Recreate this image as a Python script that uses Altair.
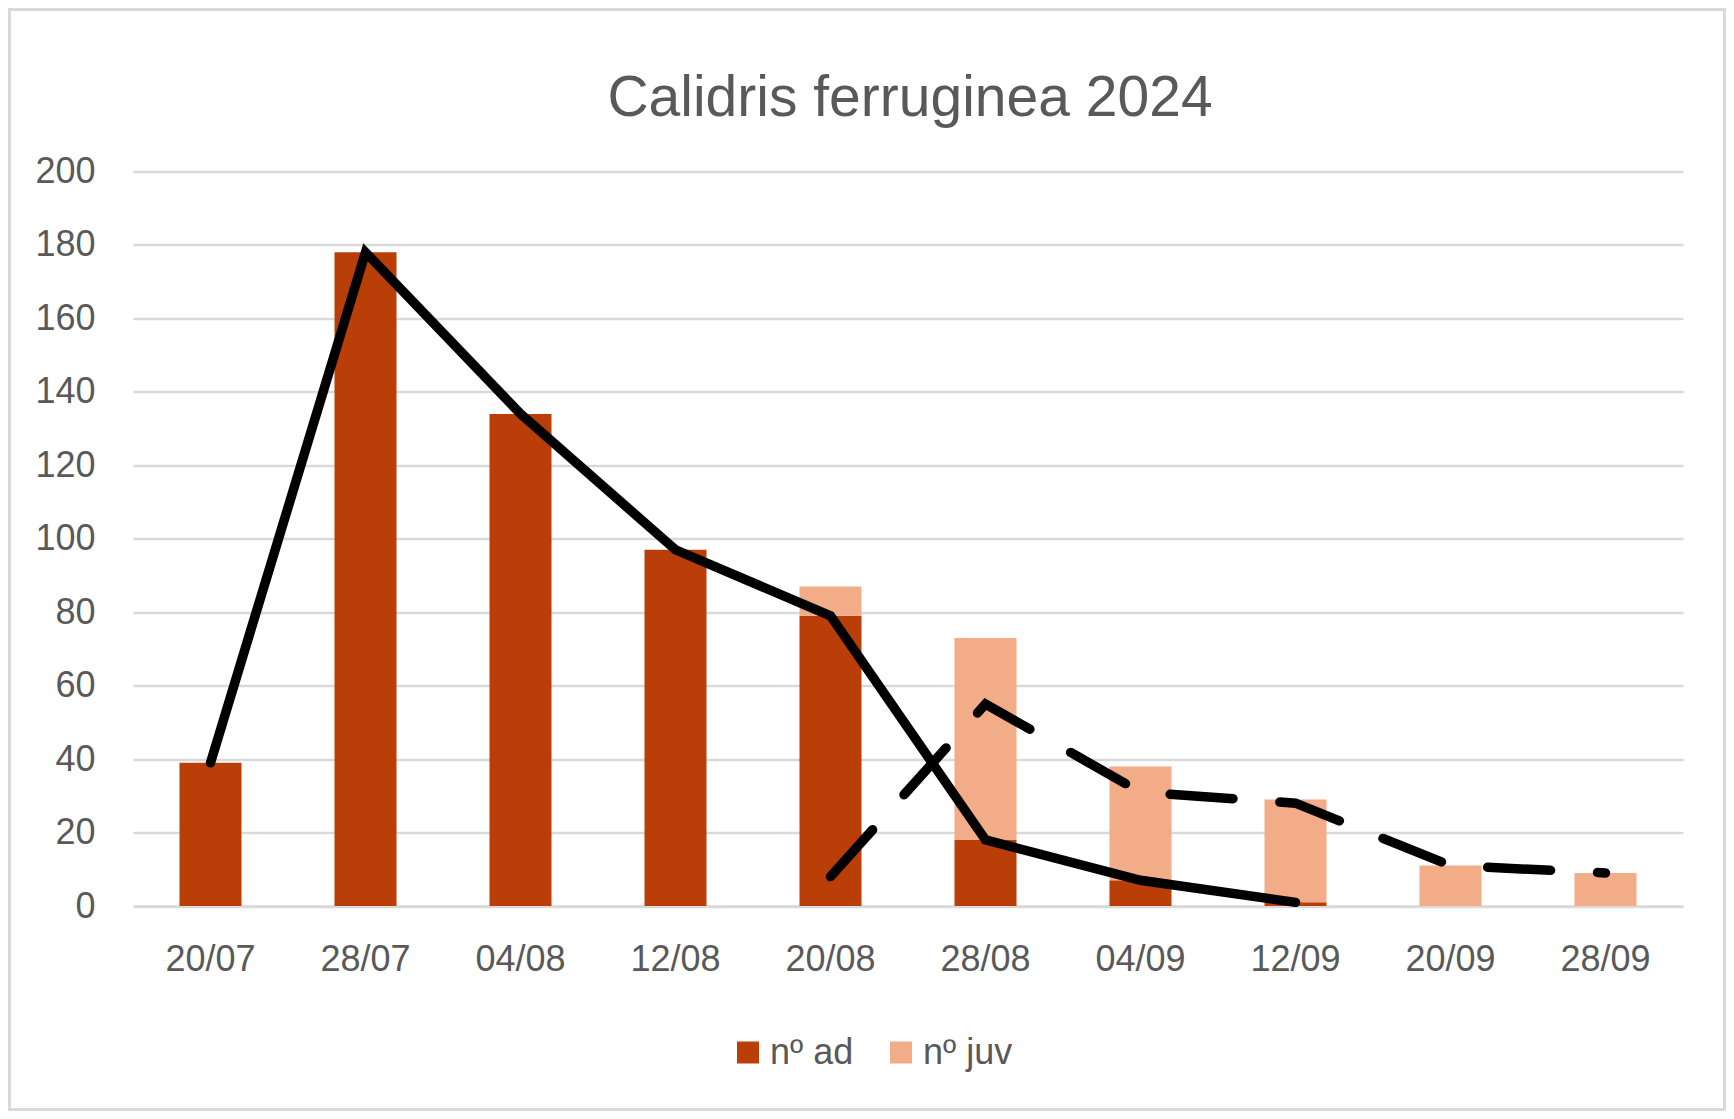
import altair as alt
import pandas as pd

# ---- data ----
dates = ["20/07", "28/07", "04/08", "12/08", "20/08", "28/08", "04/09", "12/09", "20/09", "28/09"]
ad = [39, 178, 134, 97, 79, 18, 7, 1, 0, 0]
juv = [0, 0, 0, 0, 8, 55, 31, 28, 11, 9]
ad_line_dates = ["20/07", "28/07", "04/08", "12/08", "20/08", "28/08", "04/09", "12/09"]
ad_line = [39, 178, 134, 97, 79, 18, 7, 1]
juv_line_dates = ["20/08", "28/08", "04/09", "12/09", "20/09", "28/09"]
juv_line = [8, 55, 31, 28, 11, 9]
series = ["nº ad", "nº juv"]
colors = ["#BA3E08", "#F2AC87"]
y_ticks = list(range(0, 201, 20))
title_text = ["Calidris ferruginea 2024"]

FONT = "Liberation Sans"
GREY = "#595959"
GRID = "#D9D9D9"

PW, PH = 1550, 734.5
PL, PT, PR, PB = 125, 163.5, 43, 205

rows = []
for i, d in enumerate(dates):
    rows.append({"date": d, "series": series[0], "value": ad[i], "ord": 0})
    rows.append({"date": d, "series": series[1], "value": juv[i], "ord": 1})
bars_df = pd.DataFrame(rows)
ad_df = pd.DataFrame({"date": ad_line_dates, "value": ad_line})
juv_df = pd.DataFrame({"date": juv_line_dates, "value": juv_line})

x_enc = alt.X(
    "date:N",
    sort=dates,
    scale=alt.Scale(paddingInner=0.6, paddingOuter=0.3),
    axis=alt.Axis(title=None, labelAngle=0, ticks=False, domain=True,
                  domainColor=GRID, domainWidth=2.5, labelPadding=36,
                  labelFontSize=36, labelFont=FONT, labelColor=GREY, grid=False),
)
y_enc = alt.Y(
    "value:Q",
    stack="zero",
    scale=alt.Scale(domain=[0, 200], nice=False),
    axis=alt.Axis(title=None, values=y_ticks, ticks=False, domain=False,
                  grid=True, gridColor=GRID, gridWidth=2.5, labelPadding=38,
                  labelFontSize=36, labelFont=FONT, labelColor=GREY),
)

bars = alt.Chart(bars_df).mark_bar(size=62).encode(
    x=x_enc,
    y=y_enc,
    color=alt.Color(
        "series:N",
        scale=alt.Scale(domain=series, range=colors),
        legend=alt.Legend(
            title=None, orient="none", direction="horizontal",
            legendX=597, legendY=863,
            symbolType="square", symbolSize=484, symbolStrokeWidth=0,
            labelFont=FONT, labelFontSize=36, labelColor=GREY,
            labelOffset=4, columnPadding=29,
        ),
    ),
    order=alt.Order("ord:Q"),
)

ad_line_chart = alt.Chart(ad_df).mark_line(
    color="black", strokeWidth=9.5, strokeCap="round", strokeJoin="miter"
).encode(x=alt.X("date:N", sort=dates), y=alt.Y("value:Q"))

juv_line_chart = alt.Chart(juv_df).mark_line(
    color="black", strokeWidth=9.5, strokeCap="round", strokeJoin="miter",
    strokeDash=[63, 47]
).encode(x=alt.X("date:N", sort=dates), y=alt.Y("value:Q"))

title = alt.Chart(pd.DataFrame({"t": title_text})).mark_text(
    font=FONT, fontSize=57, color=GREY, align="center", baseline="alphabetic"
).encode(text="t:N", x=alt.value(PW / 2 + 2), y=alt.value(-55.5))

border = alt.Chart(pd.DataFrame({"a": [0]})).mark_rect(
    fill=None, stroke=GRID, strokeWidth=3, clip=False
).encode(
    x=alt.value(-PL + 1.5), x2=alt.value(PW + PR - 1.5),
    y=alt.value(-PT + 1.5), y2=alt.value(PH + PB - 1.5),
)

chart = alt.layer(bars, ad_line_chart, juv_line_chart, title, border).properties(
    width=PW,
    height=PH,
    background="white",
    autosize=alt.AutoSizeParams(type="none"),
    padding={"left": PL, "top": PT, "right": PR, "bottom": PB},
).configure_view(stroke=None)

chart.save("out.html", embed_options={"renderer": "svg", "actions": False})
